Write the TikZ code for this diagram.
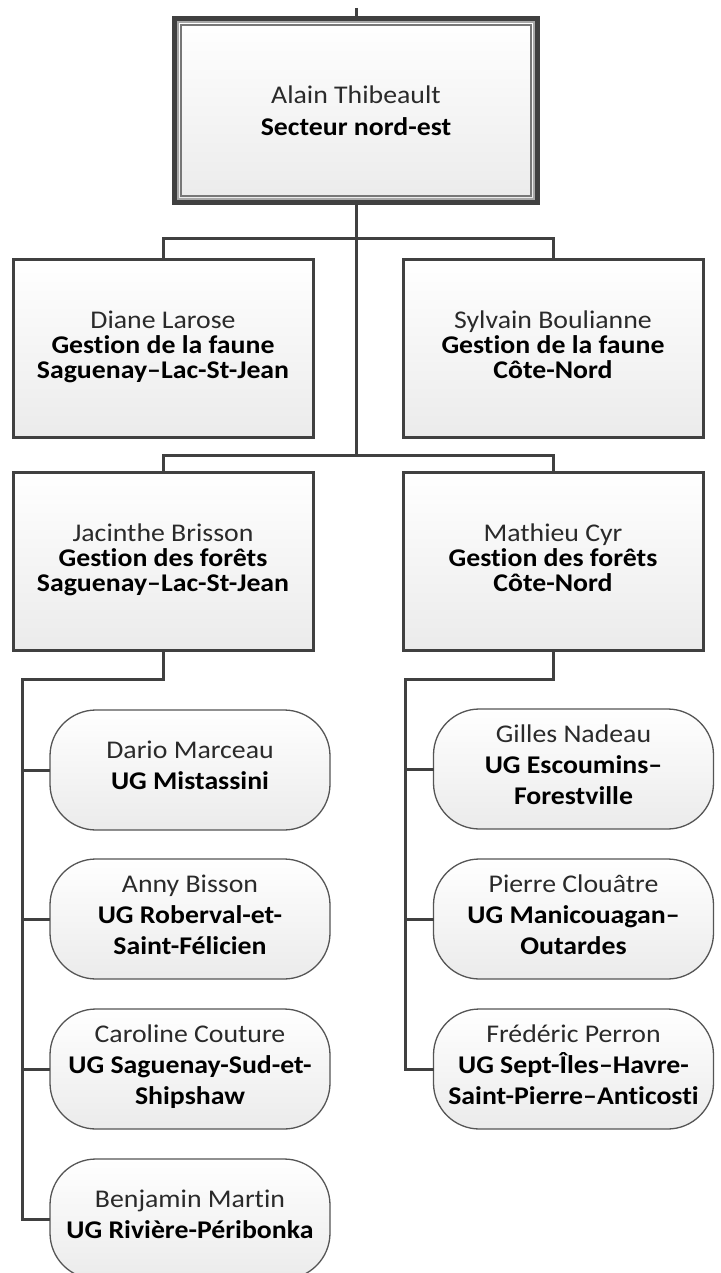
\documentclass[tikz,border=0pt]{standalone}
\usepackage{fontspec}
\setmainfont{Carlito}[FakeStretch=1.09, Ligatures={NoCommon,NoRare,NoContextual}]
\definecolor{lc}{HTML}{404040}
\definecolor{ulc}{HTML}{555555}
\definecolor{fillb}{HTML}{EBEBEB}
\definecolor{namec}{HTML}{2A2A2A}
\definecolor{inA}{HTML}{A8A8A8}
\definecolor{inB}{HTML}{777777}
\newcommand{\nm}[1]{\textcolor{namec}{#1}}
\begin{document}
\begin{tikzpicture}[x=1pt,y=-1pt,
  every node/.style={inner sep=0pt, outer sep=0pt, align=center, text=black},
  topbox/.style={draw=lc, line width=5pt, top color=white, bottom color=fillb,
    minimum width=363pt, minimum height=184pt, font=\fontsize{25.5}{32}\selectfont},
  rbox/.style={draw=lc, line width=3pt, top color=white, bottom color=fillb,
    minimum width=300pt, minimum height=178pt, font=\fontsize{25.5}{25}\selectfont},
  ubox/.style={draw=ulc, line width=1.3pt, rounded corners=46pt, top color=white, bottom color=fillb,
    minimum width=280pt, minimum height=120pt, font=\fontsize{25.5}{31}\selectfont},
  conn/.style={draw=lc, line width=3pt},
]
\useasboundingbox (0,0) rectangle (720,1273);
\fill[white] (0,0) rectangle (720,1273);
\clip (0,0) rectangle (720,1273);

% nodes
\node[topbox] (alain) at (356,110.5) {\nm{Alain Thibeault}\\\textbf{Secteur nord-est}};
\draw[draw=inA, line width=1.6pt] ([shift={(3.5,3.5)}]alain.north west) rectangle ([shift={(-3.5,-3.5)}]alain.south east);
\draw[draw=inB, line width=2pt] ([shift={(6.5,6.5)}]alain.north west) rectangle ([shift={(-6.5,-6.5)}]alain.south east);

\node[rbox] (diane) at (163,348.5) {\nm{Diane Larose}\\\textbf{Gestion de la faune}\\\textbf{Saguenay–Lac-St-Jean}\strut};
\node[rbox] (sylvain) at (553,348.5) {\nm{Sylvain Boulianne}\\\textbf{Gestion de la faune}\\\textbf{Côte-Nord}\strut};
\node[rbox] (jac) at (163,561) {\nm{Jacinthe Brisson}\\\textbf{Gestion des forêts}\\\textbf{Saguenay–Lac-St-Jean}\strut};
\node[rbox] (mat) at (553,561) {\nm{Mathieu Cyr}\\\textbf{Gestion des forêts}\\\textbf{Côte-Nord}\strut};

\node[ubox] (dario) at (190,770) {\nm{Dario Marceau}\\\textbf{UG Mistassini}\strut};
\node[ubox] (anny) at (190,919) {\nm{Anny Bisson}\\\textbf{UG Roberval-et-}\\\textbf{Saint-Félicien}\strut};
\node[ubox] (caro) at (190,1069) {\nm{Caroline Couture}\\\textbf{UG Saguenay-Sud-et-}\\\textbf{Shipshaw}\strut};
\node[ubox] (benj) at (190,1219) {\nm{Benjamin Martin}\\\textbf{UG Rivière-Péribonka}\strut};

\node[ubox] (gilles) at (573.5,769) {\nm{Gilles Nadeau}\\\textbf{UG Escoumins–}\\\textbf{Forestville}\strut};
\node[ubox] (pierre) at (573.5,919) {\nm{Pierre Clouâtre}\\\textbf{UG Manicouagan–}\\\textbf{Outardes}\strut};
\node[ubox] (fred) at (573.5,1069) {\nm{Frédéric Perron}\\\textbf{UG Sept-Îles–Havre-}\\\textbf{Saint-Pierre–Anticosti}\strut};

% coordinates
\coordinate (up) at (356,8);
\coordinate (b1) at (356,239);
\coordinate (b2) at (356,455);
\coordinate (lcol) at (22,679);
\coordinate (rcol) at (405,679);

% connectors
\draw[conn] (up) -- (alain.north);
\draw[conn] (alain.south) -- (b2);
\draw[conn] (diane.north) |- (b1) -| (sylvain.north);
\draw[conn] (jac.north) |- (b2) -| (mat.north);

\draw[conn] (jac.south) |- (lcol) -- (lcol |- benj.west) -- (benj.west);
\draw[conn] (lcol |- dario.west) -- (dario.west);
\draw[conn] (lcol |- anny.west) -- (anny.west);
\draw[conn] (lcol |- caro.west) -- (caro.west);

\draw[conn] (mat.south) |- (rcol) -- (rcol |- fred.west) -- (fred.west);
\draw[conn] (rcol |- gilles.west) -- (gilles.west);
\draw[conn] (rcol |- pierre.west) -- (pierre.west);
\end{tikzpicture}
\end{document}
